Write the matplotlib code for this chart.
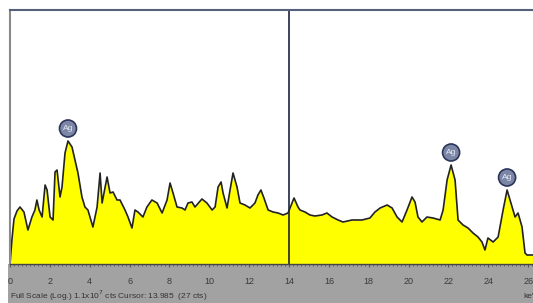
import matplotlib
matplotlib.use('Agg')
import matplotlib.pyplot as plt
from matplotlib.patches import Rectangle
from matplotlib.ticker import MultipleLocator

plt.rcParams['font.family'] = ['Liberation Sans', 'DejaVu Sans']

# EDS spectrum, energy in keV, height in display counts
energy = [0.00, 0.10, 0.20, 0.35, 0.50, 0.70, 0.90, 1.10, 1.25, 1.35, 1.46, 1.61, 1.76, 1.86,
          2.01, 2.16, 2.26, 2.36, 2.51, 2.61, 2.76, 2.91, 3.11, 3.26, 3.41, 3.61, 3.76, 3.91,
          4.16, 4.37, 4.52, 4.62, 4.87, 5.02, 5.17, 5.37, 5.52, 5.77, 5.92, 6.12, 6.27, 6.42,
          6.67, 6.87, 7.12, 7.38, 7.63, 7.88, 8.03, 8.18, 8.38, 8.63, 8.78, 8.93, 9.13, 9.28,
          9.63, 9.88, 10.14, 10.29, 10.44, 10.59, 10.69, 10.89, 11.04, 11.19, 11.39, 11.54,
          11.79, 12.04, 12.29, 12.44, 12.59, 12.74, 12.95, 13.20, 13.45, 13.70, 13.95, 14.05,
          14.25, 14.45, 14.55, 14.80, 15.05, 15.30, 15.65, 15.90, 16.16, 16.46, 16.71, 17.16,
          17.66, 18.06, 18.31, 18.57, 18.92, 19.17, 19.42, 19.67, 19.92, 20.17, 20.32, 20.47,
          20.67, 20.92, 21.22, 21.58, 21.73, 21.93, 22.13, 22.33, 22.48, 22.73, 22.98, 23.23,
          23.48, 23.68, 23.83, 23.98, 24.24, 24.49, 24.74, 24.94, 25.19, 25.34, 25.49, 25.69,
          25.84, 25.94, 26.24]
counts = [0, 25, 45, 53, 57, 52, 34, 47, 54, 64, 54, 47, 79, 74,
          47, 44, 92, 94, 67, 77, 111, 123, 117, 104, 91, 67, 57, 54,
          37, 57, 91, 61, 87, 71, 72, 64, 64, 54, 47, 36, 54, 52,
          47, 57, 64, 61, 51, 64, 81, 71, 57, 56, 54, 61, 62, 57,
          65, 61, 54, 57, 77, 82, 71, 56, 74, 91, 77, 61,
          59, 56, 61, 69, 74, 66, 54, 52, 51, 49, 51, 56,
          66, 57, 54, 52, 49, 48, 49, 51, 47, 44, 42, 44,
          44, 46, 52, 56, 59, 56, 47, 42, 54, 67, 62, 47,
          42, 47, 46, 44, 54, 84, 99, 84, 44, 39, 36, 31,
          27, 22, 14, 26, 22, 27, 54, 74, 57, 47, 51, 37,
          11, 9, 9]

peak_energy = [2.91, 22.13, 24.94]
peak_counts = [123, 99, 74]
peak_label = 'Ag'

cursor_kev = 14.0
status_text = 'Full Scale (Log.) 1.1x10$^7$ cts Cursor: 13.985  (27 cts)'

W, H = 533, 303
fig = plt.figure(figsize=(W / 100, H / 100), dpi=100)
fig.patch.set_facecolor('white')

# grey ruler strip under the spectrum
fig.patches.append(Rectangle((8 / W, 0), 1, 39 / H, transform=fig.transFigure,
                             facecolor='#a2a2a2', edgecolor='none', zorder=-5))

ax = fig.add_axes([10 / W, 39 / H, (W - 10) / W, 254 / H])
ax.set_facecolor('white')
ax.set_xlim(0, 26.24)
ax.set_ylim(0, 254)

ax.fill_between(energy, counts, 0, color='#ffff00', lw=0)
ax.plot(energy, counts, color='#222222', lw=1.2)
ax.axvline(cursor_kev, color='#1e2440', lw=1.2)

for e, c in zip(peak_energy, peak_counts):
    ax.annotate(peak_label, xy=(e, c), xytext=(0, 9), textcoords='offset points',
                ha='center', va='center', fontsize=6, color='#e8ecf4',
                bbox=dict(boxstyle='circle,pad=0.4', fc='#7c87a8', ec='#2c3458', lw=1.2))

ax.spines['right'].set_visible(False)
ax.spines['top'].set_color('#56607a')
ax.spines['top'].set_linewidth(1.5)
ax.spines['left'].set_color('#8a8a8a')
ax.spines['left'].set_linewidth(1.5)
ax.spines['bottom'].set_color('#444444')
ax.spines['bottom'].set_linewidth(1.0)

ax.set_yticks([])
ax.xaxis.set_major_locator(MultipleLocator(2))
ax.xaxis.set_minor_locator(MultipleLocator(0.2))
ax.tick_params(axis='x', which='major', direction='out', length=2.5, width=0.8,
               color='#555555', labelsize=6.5, labelcolor='#3a3a3a', pad=7)
ax.tick_params(axis='x', which='minor', direction='out', length=1.5, width=0.6,
               color='#555555')

fig.text(10 / W, 1 - 296 / H, status_text, fontsize=6, color='#333333',
         ha='left', va='center')
fig.text(523 / W, 1 - 296 / H, 'keV', fontsize=6, color='#333333',
         ha='left', va='center')

fig.savefig('out.png', dpi=100)
